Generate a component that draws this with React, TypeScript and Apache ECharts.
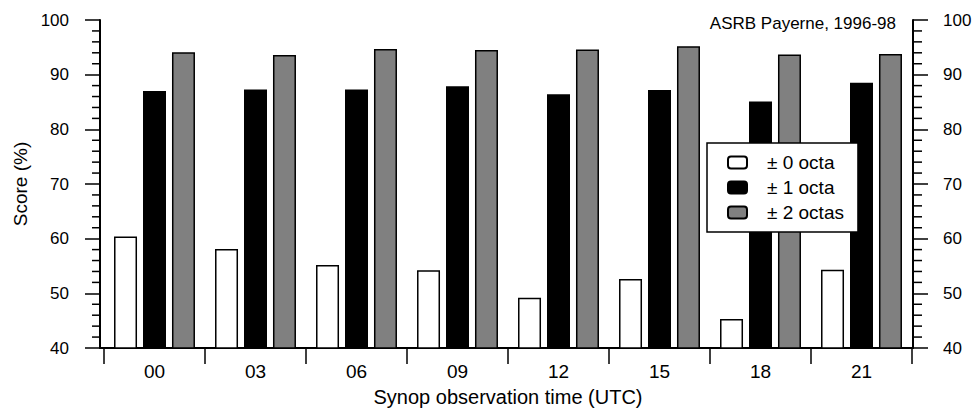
import React, { useEffect, useRef } from "react";
import * as echarts from "echarts";

const categories = ["00", "03", "06", "09", "12", "15", "18", "21"];
const seriesNames = ["± 0 octa", "± 1 octa", "± 2 octas"];
const score0 = [60.4, 58.1, 55.2, 54.2, 49.2, 52.6, 45.3, 54.3];
const score1 = [87.0, 87.3, 87.3, 87.9, 86.4, 87.2, 85.1, 88.5];
const score2 = [94.1, 93.6, 94.7, 94.5, 94.6, 95.2, 93.7, 93.8];
const yTicks = [40, 50, 60, 70, 80, 90, 100];
const yMinorTicks = [
  42, 44, 46, 48, 52, 54, 56, 58, 62, 64, 66, 68, 72, 74, 76, 78, 82, 84, 86, 88, 92, 94, 96, 98,
];

const FONT = "'Liberation Sans', Arial, Helvetica, sans-serif";

export default function App() {
  const ref = useRef<HTMLDivElement>(null);
  useEffect(() => {
    if (!ref.current) return;
    const chart = echarts.init(ref.current, undefined, { renderer: "svg" });
    const yMin = yTicks[0];
    const yMax = yTicks[yTicks.length - 1];
    const yInterval = yTicks[1] - yTicks[0];
    const visibleY = (position: "left" | "right", margin: number, withName: boolean) => ({
      type: "value",
      gridIndex: 0,
      position,
      min: yMin,
      max: yMax,
      interval: yInterval,
      name: withName ? "Score (%)" : "",
      nameLocation: "middle",
      nameGap: 69,
      nameTextStyle: { fontSize: 19, color: "#000", fontFamily: FONT },
      axisLine: { show: true, lineStyle: { color: "#000", width: 2 } },
      axisTick: { show: true, inside: false, length: 15, lineStyle: { color: "#000", width: 1.5 } },
      axisLabel: { margin: margin, fontSize: 17, color: "#000", fontFamily: FONT },
      splitLine: { show: false },
    });
    const mkSeries = (name: string, data: number[], color: string) => ({
      name,
      type: "bar",
      xAxisIndex: 1,
      yAxisIndex: 2,
      data,
      barWidth: 23,
      barGap: "26%",
      itemStyle: { color, borderColor: "#000", borderWidth: 1.5 },
    });
    chart.setOption({
      animation: false,
      backgroundColor: "#fff",
      textStyle: { fontFamily: FONT },
      title: {
        text: "ASRB Payerne, 1996-98",
        right: 80,
        top: 15,
        padding: 0,
        textStyle: { fontSize: 17, fontWeight: "normal", color: "#000", fontFamily: FONT },
      },
      legend: {
        data: seriesNames,
        orient: "vertical",
        left: 707,
        top: 143,
        itemWidth: 19,
        itemHeight: 12,
        itemGap: 6,
        icon: "roundRect",
        padding: [10, 14, 10, 20],
        backgroundColor: "#fff",
        borderColor: "#000",
        borderWidth: 1.5,
        borderRadius: 0,
        textStyle: { fontSize: 19, color: "#000", fontFamily: FONT, padding: [0, 0, 0, 15] },
        selectedMode: false,
      },
      grid: [
        { left: 100, right: 63, top: 20, bottom: 61, containLabel: false, outerBoundsMode: "none" },
        { left: 104, right: 64, top: 20, bottom: 61, containLabel: false, outerBoundsMode: "none" },
      ],
      xAxis: [
        {
          type: "value",
          gridIndex: 0,
          min: 0,
          max: 1,
          axisLine: { show: true, lineStyle: { color: "#000", width: 2 } },
          axisTick: { show: false },
          axisLabel: { show: false },
          splitLine: { show: false },
        },
        {
          type: "category",
          gridIndex: 1,
          data: categories,
          boundaryGap: true,
          name: "Synop observation time (UTC)",
          nameLocation: "middle",
          nameGap: 39,
          nameTextStyle: { fontSize: 20, color: "#000", fontFamily: FONT },
          axisLine: { show: true, lineStyle: { color: "#000", width: 2 } },
          axisTick: { show: true, alignWithLabel: false, length: 16, lineStyle: { color: "#000", width: 1.5 } },
          axisLabel: { margin: 14, fontSize: 19, color: "#000", fontFamily: FONT },
          splitLine: { show: false },
        },
      ],
      yAxis: [
        visibleY("left", 31, true),
        visibleY("right", 30, false),
        {
          type: "value",
          gridIndex: 1,
          min: yMin,
          max: yMax,
          interval: yInterval,
          show: false,
        },
      ],
      series: [
        mkSeries(seriesNames[0], score0, "#ffffff"),
        mkSeries(seriesNames[1], score1, "#000000"),
        mkSeries(seriesNames[2], score2, "#808080"),
      ],
    });

    // minor ticks on both y axes, positioned through the axis scale
    const finder = { xAxisIndex: 0, yAxisIndex: 0 };
    const minorEls: any[] = [];
    yMinorTicks.forEach((v) => {
      const pl = chart.convertToPixel(finder, [0, v]) as number[];
      const pr = chart.convertToPixel(finder, [1, v]) as number[];
      if (!pl || !pr) return;
      minorEls.push({
        type: "line",
        silent: true,
        z: 10,
        shape: { x1: pl[0] - 8, y1: pl[1], x2: pl[0], y2: pl[1] },
        style: { stroke: "#000", lineWidth: 1.5 },
      });
      minorEls.push({
        type: "line",
        silent: true,
        z: 10,
        shape: { x1: pr[0], y1: pr[1], x2: pr[0] + 9, y2: pr[1] },
        style: { stroke: "#000", lineWidth: 1.5 },
      });
    });
    chart.setOption({ graphic: { elements: minorEls } });

    return () => chart.dispose();
  }, []);
  return (
    <div
      ref={ref}
      style={{ position: "fixed", left: 0, top: 0, width: 976, height: 409, background: "#fff" }}
    />
  );
}
